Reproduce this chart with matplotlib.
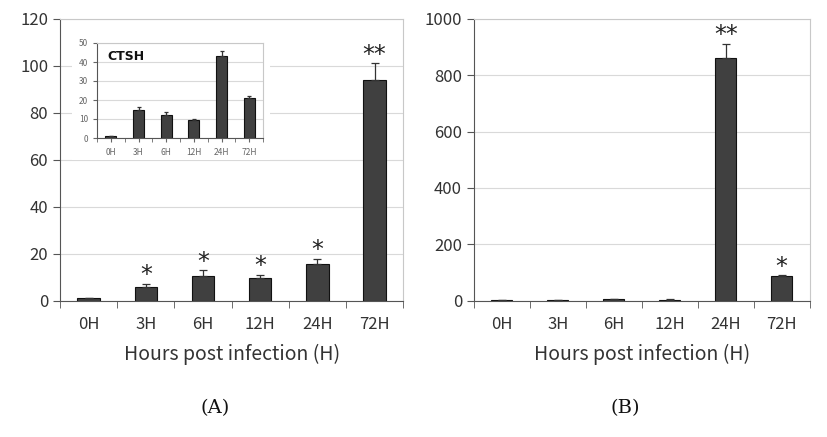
import matplotlib
matplotlib.use("Agg")
import matplotlib.pyplot as plt
from matplotlib.patches import Rectangle
import numpy as np

plt.rcParams['font.family'] = ['Noto Sans CJK KR', 'DejaVu Sans']

hours = ['0H', '3H', '6H', '12H', '24H', '72H']

# panel A (main)
a_vals = [1.0, 6.0, 10.7, 9.5, 15.5, 94.0]
a_errs = [0.2, 1.2, 2.2, 1.6, 2.4, 7.2]
a_stars = ['', '*', '*', '*', '*', '**']

# panel A inset (CTSH)
ins_vals = [0.9, 14.9, 12.3, 9.5, 43.3, 21.0]
ins_errs = [0.2, 1.4, 1.2, 0.7, 2.6, 1.3]

# panel B
b_vals = [1.0, 3.0, 5.0, 4.0, 860.0, 86.0]
b_errs = [0.5, 1.0, 1.5, 1.0, 52.0, 4.0]
b_stars = ['', '', '', '', '**', '*']

BAR = '#404040'
GRID = '#d9d9d9'
TXT = '#333333'


def style_axes(ax, ymax, step, fs):
    x = np.arange(len(hours))
    ax.set_xlim(-0.5, len(hours) - 0.5)
    ax.set_ylim(0, ymax)
    ax.set_yticks(np.arange(0, ymax + 1, step))
    ax.set_xticks(x)
    ax.set_xticklabels(hours)
    ax.set_xticks(np.arange(-0.5, len(hours)), minor=True)
    ax.tick_params(axis='x', which='major', length=0, pad=fs * 0.9, labelsize=fs, colors=TXT)
    ax.tick_params(axis='x', which='minor', length=5, direction='out', color='#555555')
    ax.tick_params(axis='y', length=5, direction='out', color='#555555', labelsize=fs, colors=TXT)
    ax.grid(axis='y', color=GRID, linewidth=0.8)
    ax.set_axisbelow(True)
    ax.spines['left'].set_color('#555555')
    ax.spines['bottom'].set_color('#555555')
    ax.spines['top'].set_color('#c8c8c8')
    ax.spines['right'].set_color('#c8c8c8')


def draw_bars(ax, vals, errs, width, cap):
    x = np.arange(len(hours))
    ax.bar(x, vals, width=width, color=BAR, edgecolor='#111111', linewidth=0.8, zorder=2)
    ax.errorbar(x, vals, yerr=[np.zeros(len(errs)), errs], fmt='none',
                ecolor='#333333', elinewidth=0.9, capsize=cap, capthick=0.9, zorder=3)


def draw_stars(ax, vals, errs, stars):
    for i, s in enumerate(stars):
        if s:
            ax.annotate(s, (i, vals[i] + errs[i]), xytext=(0, 1),
                        textcoords='offset points', ha='center', va='baseline',
                        fontsize=17, color='#222222', family='DejaVu Sans')


fig = plt.figure(figsize=(8.27, 4.37), dpi=100)

axA = fig.add_axes([0.0726, 0.312, 0.415, 0.645])
style_axes(axA, 120, 20, 12)
draw_bars(axA, a_vals, a_errs, 0.39, 3)
draw_stars(axA, a_vals, a_errs, a_stars)
axA.set_xlabel('Hours post infection (H)', fontsize=14, color=TXT, labelpad=8)

axB = fig.add_axes([0.573, 0.312, 0.406, 0.645])
style_axes(axB, 1000, 200, 12)
draw_bars(axB, b_vals, b_errs, 0.375, 3)
draw_stars(axB, b_vals, b_errs, b_stars)
axB.set_xlabel('Hours post infection (H)', fontsize=14, color=TXT, labelpad=8)

# white backing for the inset
fig.patches.append(Rectangle((72 / 827, 1 - 160 / 437), 198 / 827, 130 / 437,
                             transform=fig.transFigure, facecolor='white',
                             edgecolor='none', zorder=1))

axI = fig.add_axes([97 / 827, 1 - 138 / 437, 166 / 827, 95 / 437], zorder=2)
style_axes(axI, 50, 10, 6)
axI.tick_params(axis='x', which='major', pad=4)
axI.tick_params(axis='both', which='both', length=3, colors='#666666')
draw_bars(axI, ins_vals, ins_errs, 0.4, 1.5)
axI.text(0.06, 0.86, 'CTSH', transform=axI.transAxes, fontsize=9,
         fontweight='bold', family='DejaVu Sans', va='center', color='#111111')

fig.text(215 / 827, 1 - 408 / 437, '(A)', ha='center', va='center',
         fontsize=14, family='DejaVu Serif', color='#111111')
fig.text(625 / 827, 1 - 408 / 437, '(B)', ha='center', va='center',
         fontsize=14, family='DejaVu Serif', color='#111111')

fig.savefig('out.png', dpi=100, facecolor='white')
